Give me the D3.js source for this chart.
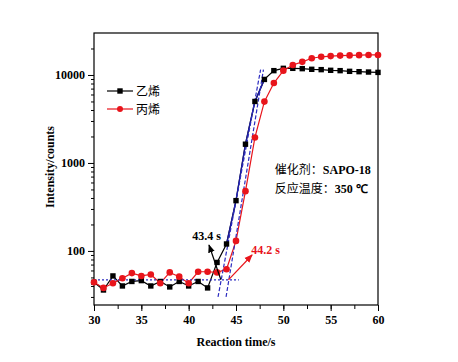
<!DOCTYPE html>
<html>
<head>
<meta charset="utf-8">
<script src="https://cdn.jsdelivr.net/npm/d3@7"></script>
<style>
  body { margin: 0; background: #fff; }
  text { font-family: "Liberation Serif", "Times New Roman", serif; font-weight: bold; }
  .cn { font-family: "Noto Sans CJK SC", sans-serif; font-weight: normal; }
</style>
</head>
<body>
<div id="chart"></div>
<script>
// reaction time (s)
var times = d3.range(30, 61);

// 乙烯 (ethylene) counts
var ethylene = [44, 36, 52, 40, 45, 46, 40, 45, 39, 45, 40, 45, 38, 74, 120,
    373, 1634, 5000, 8900, 11200, 11900, 11900, 11800, 11600, 11500, 11300,
    11200, 11000, 10900, 10800, 10700];

// 丙烯 (propylene) counts
var propylene = [44, 38, 43, 49, 56, 52, 54, 43, 57, 51, 43, 58, 58, 57, 62,
    130, 478, 1950, 4980, 8100, 11200, 13000, 14100, 15500, 16100, 16400,
    16600, 16700, 16800, 16900, 16900];

var xTicks = [30, 35, 40, 45, 50, 55, 60];
var yTicks = [100, 1000, 10000];

// baseline and onset tangents
var baseline = [[30, 47], [45.3, 47]];
var tangent1 = [[43.1, 30], [47.6, 11500]];
var tangent2 = [[43.95, 30], [47.9, 11500]];

var margin = {top: 33, right: 80, bottom: 57, left: 94};
var width = 458, height = 362;
var w = width - margin.left - margin.right;
var h = height - margin.top - margin.bottom;

var svg = d3.select('#chart').append('svg')
    .attr('width', width)
    .attr('height', height);

var g = svg.append('g')
    .attr('transform', 'translate(' + margin.left + ',' + margin.top + ')');

var x = d3.scaleLinear().domain([30, 60]).range([0, w]);
var y = d3.scaleLog().domain([24.3, 30000]).range([h, 0]);

// frame
g.append('rect')
    .attr('width', w).attr('height', h)
    .attr('fill', 'none').attr('stroke', '#000').attr('stroke-width', 1.2);

// x axis
var xMinor = d3.range(30, 60.1, 2.5);
g.append('g')
    .attr('transform', 'translate(0,' + h + ')')
    .call(d3.axisBottom(x).tickValues(xMinor).tickSize(4).tickFormat(''))
    .call(function (a) { a.select('.domain').remove(); });
g.append('g')
    .attr('transform', 'translate(0,' + h + ')')
    .call(d3.axisBottom(x).tickValues(xTicks).tickSize(6).tickPadding(4))
    .call(function (a) {
        a.select('.domain').remove();
        a.selectAll('text').attr('font-size', 12).attr('fill', '#000')
            .style('font-family', '"Liberation Serif", serif').style('font-weight', 'bold');
    });

// y axis
var yMinor = [];
[10, 100, 1000, 10000].forEach(function (d) {
    for (var k = 2; k <= 9; k++) {
        var v = d * k;
        if (v > 24.3 && v < 30000) yMinor.push(v);
    }
});
g.append('g')
    .call(d3.axisLeft(y).tickValues(yMinor).tickSize(3).tickFormat(''))
    .call(function (a) { a.select('.domain').remove(); });
g.append('g')
    .call(d3.axisLeft(y).tickValues(yTicks).tickSize(6).tickPadding(3).tickFormat(d3.format('d')))
    .call(function (a) {
        a.select('.domain').remove();
        a.selectAll('text').attr('font-size', 12).attr('fill', '#000')
            .style('font-family', '"Liberation Serif", serif').style('font-weight', 'bold');
    });

// axis titles
svg.append('text')
    .attr('x', margin.left + w / 2).attr('y', 346)
    .attr('text-anchor', 'middle').attr('font-size', 12)
    .text('Reaction time/s');
svg.append('text')
    .attr('transform', 'translate(54,' + (margin.top + y(900)) + ') rotate(-90)')
    .attr('text-anchor', 'middle').attr('font-size', 12)
    .text('Intensity/counts');

var line = d3.line()
    .x(function (d) { return x(d[0]); })
    .y(function (d) { return y(d[1]); });

var ethPts = times.map(function (t, i) { return [t, ethylene[i]]; });
var proPts = times.map(function (t, i) { return [t, propylene[i]]; });

// series lines
g.append('path').datum(ethPts).attr('d', line)
    .attr('fill', 'none').attr('stroke', '#000').attr('stroke-width', 1.2);
g.append('path').datum(proPts).attr('d', line)
    .attr('fill', 'none').attr('stroke', '#e8141b').attr('stroke-width', 1.2);

// blue overlay on ethylene rise
g.append('path').datum(ethPts.slice(14, 19)).attr('d', line)
    .attr('fill', 'none').attr('stroke', '#1c1c96').attr('stroke-width', 1.4);

// dashed baseline and tangents
g.append('path').datum(baseline).attr('d', line)
    .attr('fill', 'none').attr('stroke', '#2b2bc0').attr('stroke-width', 1.3)
    .attr('stroke-dasharray', '2,2');
[tangent1, tangent2].forEach(function (t) {
    g.append('path').datum(t).attr('d', line)
        .attr('fill', 'none').attr('stroke', '#2b2bc0').attr('stroke-width', 1.2)
        .attr('stroke-dasharray', '4,2');
});

// markers
g.selectAll('rect.eth').data(ethPts).enter().append('rect')
    .attr('class', 'eth')
    .attr('x', function (d) { return x(d[0]) - 2.7; })
    .attr('y', function (d) { return y(d[1]) - 2.7; })
    .attr('width', 5.4).attr('height', 5.4)
    .attr('fill', '#000');
g.selectAll('circle.pro').data(proPts).enter().append('circle')
    .attr('class', 'pro')
    .attr('cx', function (d) { return x(d[0]); })
    .attr('cy', function (d) { return y(d[1]); })
    .attr('r', 3.3)
    .attr('fill', '#e8141b');

// annotations
var defs = svg.append('defs');
[['arrK', '#000'], ['arrR', '#e8141b']].forEach(function (m) {
    defs.append('marker')
        .attr('id', m[0]).attr('viewBox', '0 0 10 10')
        .attr('refX', 9).attr('refY', 5)
        .attr('markerWidth', 7).attr('markerHeight', 7)
        .attr('orient', 'auto')
        .append('path').attr('d', 'M0,1L10,5L0,9Z').attr('fill', m[1]);
});
g.append('line')
    .attr('x1', x(43.4)).attr('y1', y(47))
    .attr('x2', x(42.15)).attr('y2', y(117))
    .attr('stroke', '#000').attr('stroke-width', 1.2)
    .attr('marker-end', 'url(#arrK)');
g.append('line')
    .attr('x1', x(44.2)).attr('y1', y(47))
    .attr('x2', x(46.7)).attr('y2', y(90))
    .attr('stroke', '#e8141b').attr('stroke-width', 1.2)
    .attr('marker-end', 'url(#arrR)');
g.append('text')
    .attr('x', x(41.9)).attr('y', y(148) + 4)
    .attr('text-anchor', 'middle').attr('font-size', 12)
    .text('43.4 s');
g.append('text')
    .attr('x', x(46.6)).attr('y', y(102) + 4)
    .attr('font-size', 12).attr('fill', '#e8141b')
    .text('44.2 s');

// conditions
var info = g.append('text').attr('x', x(49.1)).attr('y', y(1000) + 11).attr('font-size', 12);
info.append('tspan').attr('class', 'cn').text('催化剂：');
info.append('tspan').text('SAPO-18');
var info2 = g.append('text').attr('x', x(49.1)).attr('y', y(1000) + 30).attr('font-size', 12);
info2.append('tspan').attr('class', 'cn').text('反应温度：');
info2.append('tspan').text('350 ℃');

// legend
var legend = svg.append('g').attr('transform', 'translate(107,91)');
legend.append('line').attr('x1', 0).attr('x2', 26)
    .attr('stroke', '#000').attr('stroke-width', 1.2);
legend.append('rect').attr('x', 13 - 2.7).attr('y', -2.7)
    .attr('width', 5.4).attr('height', 5.4).attr('fill', '#000');
legend.append('text').attr('class', 'cn').attr('x', 29).attr('y', 4.5)
    .attr('font-size', 12).text('乙烯');
legend.append('line').attr('x1', 0).attr('x2', 26).attr('y1', 18).attr('y2', 18)
    .attr('stroke', '#e8141b').attr('stroke-width', 1.2);
legend.append('circle').attr('cx', 13).attr('cy', 18).attr('r', 3)
    .attr('fill', '#e8141b');
legend.append('text').attr('class', 'cn').attr('x', 29).attr('y', 22.5)
    .attr('font-size', 12).text('丙烯');
</script>
</body>
</html>
